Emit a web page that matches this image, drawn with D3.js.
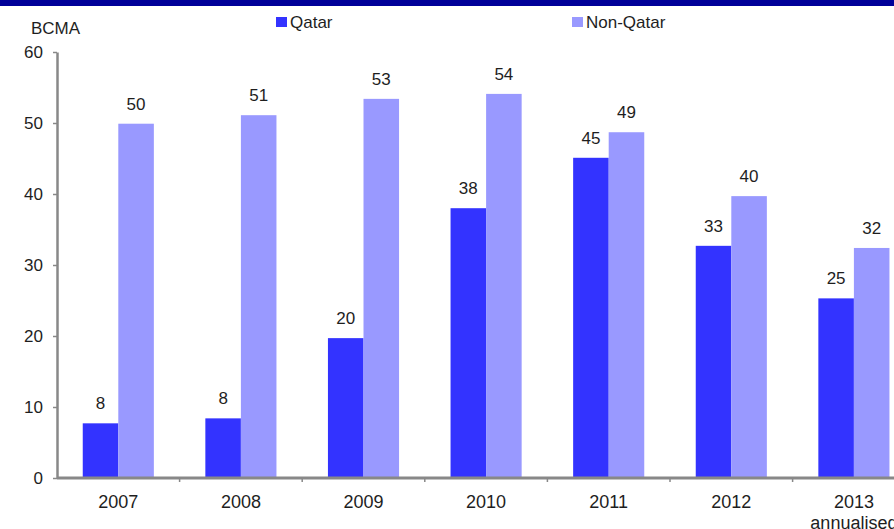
<!DOCTYPE html>
<html>
<head>
<meta charset="utf-8">
<script src="https://cdn.jsdelivr.net/npm/d3@7"></script>
<style>
  html, body { margin: 0; padding: 0; background: #fff; }
  svg { display: block; }
  text { font-family: "Liberation Sans", Arial, sans-serif; fill: #1e1e1e; }
</style>
</head>
<body>
<svg id="chart" width="894" height="529"></svg>
<script>
// Gas export volumes, billion cubic metres per annum
const years = ["2007", "2008", "2009", "2010", "2011", "2012", "2013"];
const yearSubLabels = ["", "", "", "", "", "", "annualised"];
const seriesNames = ["Qatar", "Non-Qatar"];
const qatar = [7.7, 8.4, 19.7, 38.0, 45.1, 32.7, 25.3];
const nonQatar = [49.9, 51.1, 53.4, 54.1, 48.7, 39.7, 32.4];
const yTicks = [0, 10, 20, 30, 40, 50, 60];
const colors = ["#3333ff", "#9999ff"];

const svg = d3.select("#chart");
const W = 894, H = 529;
const plotLeft = 57, plotBottom = 478, plotTop = 52;
const band = 122.6;

// header strip
svg.append("rect").attr("x", 0).attr("y", 0).attr("width", W).attr("height", 6).attr("fill", "#000099");

const x0 = d3.scaleBand().domain(years).range([plotLeft, plotLeft + band * years.length]).padding(0);
const x1 = d3.scaleBand().domain(seriesNames).range([x0.bandwidth() * 0.21, x0.bandwidth() * 0.79]).padding(0);
const y = d3.scaleLinear().domain([0, 60]).range([plotBottom, plotTop]);

const rows = years.map((yr, i) => ({ year: yr, values: [qatar[i], nonQatar[i]] }));

// bars
const groups = svg.append("g").selectAll("g").data(rows).join("g")
  .attr("transform", d => `translate(${x0(d.year)},0)`);

groups.selectAll("rect").data(d => d.values.map((v, k) => ({ s: seriesNames[k], v, k })))
  .join("rect")
  .attr("x", d => x1(d.s))
  .attr("width", x1.bandwidth())
  .attr("y", d => y(d.v))
  .attr("height", d => y(0) - y(d.v))
  .attr("fill", d => colors[d.k]);

// value labels
groups.selectAll("text.val").data(d => d.values.map((v, k) => ({ s: seriesNames[k], v, k })))
  .join("text")
  .attr("class", "val")
  .attr("x", d => x1(d.s) + x1.bandwidth() / 2)
  .attr("y", d => y(d.v) - 14)
  .attr("text-anchor", "middle")
  .attr("font-size", 17)
  .text(d => d3.format(".0f")(d.v));

// y axis
const yAxis = svg.append("g").attr("transform", `translate(${plotLeft},0)`)
  .call(d3.axisLeft(y).tickValues(yTicks).tickSize(4).tickSizeOuter(0).tickPadding(10));
yAxis.select(".domain").attr("stroke", "#888").attr("stroke-width", 2.5);
yAxis.selectAll(".tick line").attr("stroke", "#888").attr("stroke-width", 1.5);
yAxis.selectAll(".tick text").attr("font-size", 17).attr("font-family", "Liberation Sans, Arial, sans-serif").attr("fill", "#1e1e1e");

// x axis (ticks sit at category boundaries)
const xAxis = svg.append("g").attr("transform", `translate(0,${plotBottom})`);
xAxis.append("line").attr("x1", plotLeft).attr("x2", W).attr("y1", 0).attr("y2", 0)
  .attr("stroke", "#888").attr("stroke-width", 3);
xAxis.selectAll("line.tk").data(years.slice(1)).join("line")
  .attr("class", "tk")
  .attr("x1", d => x0(d)).attr("x2", d => x0(d))
  .attr("y1", 0).attr("y2", 4)
  .attr("stroke", "#888").attr("stroke-width", 1.5);

const xl = svg.append("g").selectAll("text").data(years).join("text")
  .attr("x", d => x0(d) + x0.bandwidth() / 2)
  .attr("y", 508)
  .attr("text-anchor", "middle")
  .attr("font-size", 18);
xl.append("tspan").text(d => d);
xl.append("tspan")
  .attr("x", d => x0(d) + x0.bandwidth() / 2)
  .attr("dy", 21)
  .text((d, i) => yearSubLabels[i]);

// unit label
svg.append("text").attr("x", 31).attr("y", 34).attr("font-size", 17).text("BCMA");

// legend
const legendX = [276, 572];
const lg = svg.append("g").selectAll("g").data(seriesNames).join("g")
  .attr("transform", (d, i) => `translate(${legendX[i]},17)`);
lg.append("rect").attr("width", 11).attr("height", 10).attr("fill", (d, i) => colors[i]);
lg.append("text").attr("x", 14).attr("y", 11).attr("font-size", 17).text(d => d);
</script>
</body>
</html>
